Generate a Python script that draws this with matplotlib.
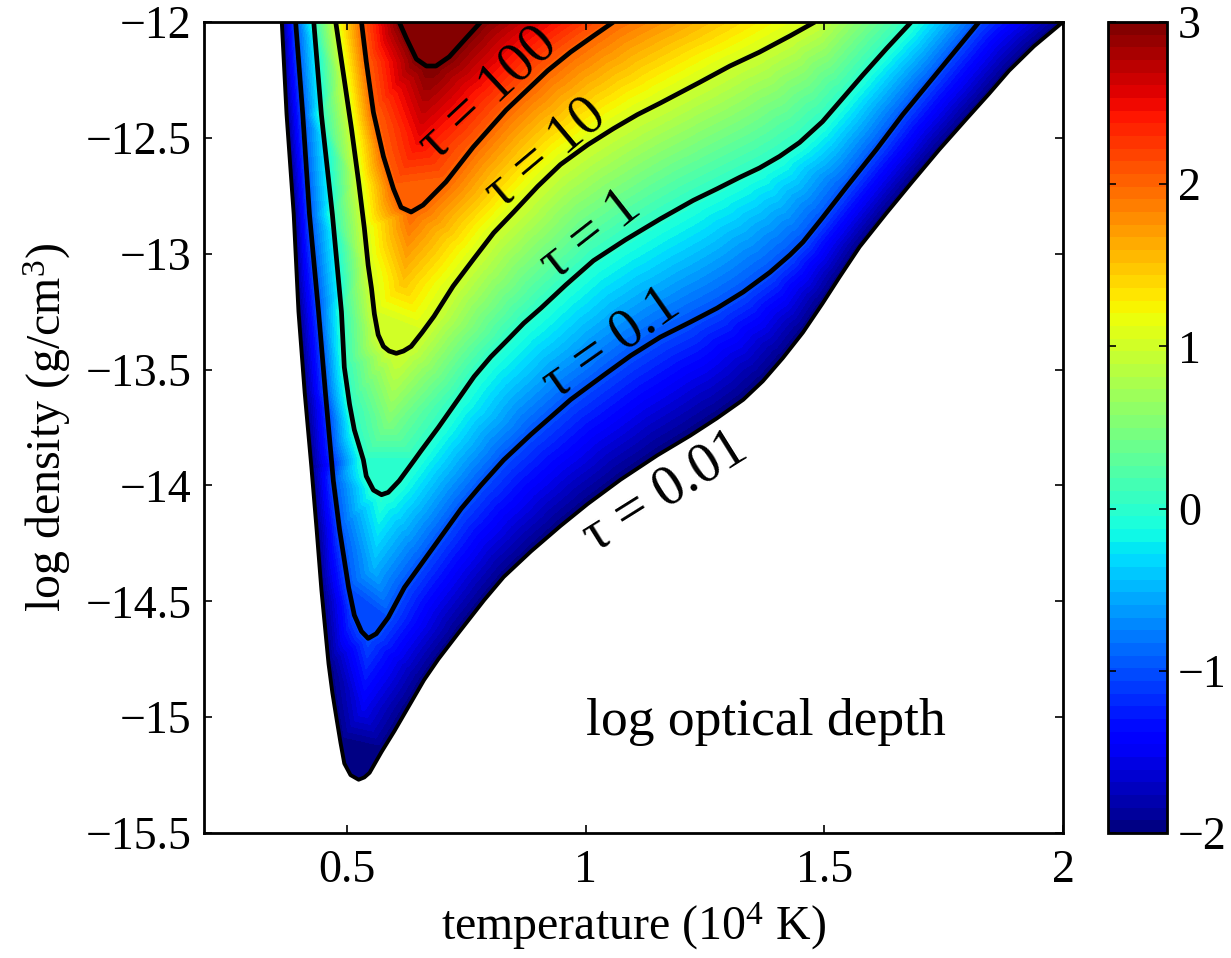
import numpy as np
import matplotlib
matplotlib.use("Agg")
import matplotlib.pyplot as plt
import matplotlib.tri as mtri
from matplotlib.path import Path
from matplotlib.colors import Normalize

plt.rcParams["font.family"] = ["Liberation Serif", "DejaVu Serif"]
plt.rcParams["mathtext.fontset"] = "custom"
plt.rcParams["mathtext.rm"] = "Liberation Serif"
plt.rcParams["mathtext.it"] = "Liberation Serif:italic"

# contours: temperature (1e4 K), log density
t_001 = [0.363, 0.373, 0.388, 0.398, 0.411, 0.425, 0.436, 0.446, 0.461, 0.469, 0.478, 0.486, 0.494, 0.507, 0.524,
         0.536, 0.547, 0.572, 0.599, 0.630, 0.661, 0.691, 0.732, 0.787, 0.828, 0.885, 0.947, 1.004, 1.073, 1.150,
         1.219, 1.275, 1.330, 1.371, 1.413, 1.455, 1.496, 1.532, 1.574, 1.630, 1.684, 1.741, 1.797, 1.845, 1.887,
         1.939, 2.0]
r_001 = [-12, -12.398, -12.83, -13.25, -13.60, -13.92, -14.19, -14.45, -14.77, -14.895, -15.01, -15.11, -15.20, -15.25,
         -15.27, -15.26, -15.24, -15.15, -15.06, -14.95, -14.84, -14.75, -14.64, -14.495, -14.395, -14.285, -14.175,
         -14.08, -13.975, -13.87, -13.785, -13.71, -13.63, -13.55, -13.45, -13.34, -13.215, -13.10, -12.97, -12.825,
         -12.69, -12.55, -12.42, -12.31, -12.21, -12.105, -12]
t_01 = [0.392, 0.407, 0.421, 0.440, 0.454, 0.471, 0.484, 0.503, 0.515, 0.530, 0.544, 0.561, 0.586, 0.620, 0.655,
        0.697, 0.739, 0.780, 0.828, 0.885, 0.968, 1.037, 1.094, 1.156, 1.219, 1.275, 1.330, 1.386, 1.428, 1.455,
        1.494, 1.547, 1.609, 1.664, 1.720, 1.776, 1.824]
r_01 = [-12, -12.40, -12.83, -13.25, -13.59, -13.98, -14.19, -14.44, -14.56, -14.63, -14.66, -14.64, -14.57, -14.44,
        -14.34, -14.22, -14.10, -14.00, -13.89, -13.78, -13.63, -13.525, -13.44, -13.36, -13.295, -13.235, -13.165,
        -13.08, -13.005, -12.95, -12.85, -12.71, -12.55, -12.40, -12.26, -12.12, -12]
t_1 = [0.430, 0.446, 0.469, 0.488, 0.494, 0.505, 0.515, 0.534, 0.540, 0.555, 0.572, 0.586, 0.609, 0.641, 0.655,
       0.691, 0.732, 0.766, 0.801, 0.837, 0.870, 0.906, 0.958, 1.016, 1.083, 1.156, 1.225, 1.275, 1.323, 1.364,
       1.406, 1.448, 1.496, 1.538, 1.580, 1.630, 1.682]
r_1 = [-12, -12.40, -12.83, -13.25, -13.49, -13.65, -13.76, -13.89, -13.96, -14.02, -14.04, -14.03, -13.98, -13.89,
       -13.85, -13.75, -13.63, -13.53, -13.445, -13.37, -13.30, -13.235, -13.135, -13.03, -12.94, -12.85, -12.77,
       -12.72, -12.67, -12.63, -12.58, -12.52, -12.43, -12.33, -12.23, -12.115, -12]
t_10 = [0.476, 0.494, 0.509, 0.524, 0.536, 0.544, 0.551, 0.557, 0.565, 0.576, 0.588, 0.603, 0.618, 0.634, 0.657,
        0.682, 0.722, 0.766, 0.807, 0.849, 0.899, 0.947, 1.004, 1.058, 1.108, 1.156, 1.239, 1.302, 1.364, 1.428, 1.480]
r_10 = [-12, -12.25, -12.46, -12.69, -12.89, -13.05, -13.15, -13.26, -13.35, -13.40, -13.42, -13.43, -13.42, -13.40,
        -13.34, -13.27, -13.14, -13.02, -12.91, -12.82, -12.71, -12.615, -12.53, -12.46, -12.40, -12.35, -12.26,
        -12.19, -12.13, -12.06, -12]
t_100 = [0.530, 0.540, 0.555, 0.576, 0.597, 0.613, 0.634, 0.659, 0.707, 0.764, 0.833, 0.879, 0.920, 0.968, 1.016, 1.058]
r_100 = [-12, -12.17, -12.39, -12.58, -12.72, -12.80, -12.82, -12.79, -12.69, -12.54, -12.38, -12.29, -12.21, -12.13,
         -12.06, -12]
t_1000 = [0.609, 0.624, 0.645, 0.666, 0.686, 0.714, 0.749, 0.780]
r_1000 = [-12, -12.07, -12.16, -12.19, -12.19, -12.15, -12.07, -12]

# values along the bottom of the valley, between the contour tips
t_ridge = [0.534, 0.557, 0.587, 0.618, 0.650]
r_ridge = [-14.96, -14.35, -13.73, -13.12, -12.51]
z_ridge = [-1.5, -0.5, 0.5, 1.5, 2.5]

curves = [(t_001, r_001, -2), (t_01, r_01, -1), (t_1, r_1, 0), (t_10, r_10, 1), (t_100, r_100, 2), (t_1000, r_1000, 3)]

labels = ["τ = 100", "τ = 10", "τ = 1", "τ = 0.1", "τ = 0.01"]
label_t = [0.795, 0.915, 1.01, 1.052, 1.165]
label_r = [-12.31, -12.57, -12.92, -13.39, -14.03]
label_rot = [43, 40, 38, 35, 32]

x_ticks = [0.5, 1, 1.5, 2]
x_labels = ["0.5", "1", "1.5", "2"]
y_ticks = [-15.5, -15, -14.5, -14, -13.5, -13, -12.5, -12]
y_labels = ["\u221215.5", "\u221215", "\u221214.5", "\u221214", "\u221213.5", "\u221213", "\u221212.5", "\u221212"]
c_ticks = [-2, -1, 0, 1, 2, 3]
c_labels = ["\u22122", "\u22121", "0", "1", "2", "3"]

W, H = 1231, 958
fig = plt.figure(figsize=(W / 100, H / 100), dpi=100)
ax = fig.add_axes([204 / W, 1 - 833 / H, 859 / W, 811 / H])
cax = fig.add_axes([1108 / W, 1 - 833 / H, 59 / W, 811 / H])

x = np.concatenate([c[0] for c in curves] + [t_ridge])
y = np.concatenate([c[1] for c in curves] + [r_ridge])
z = np.concatenate([np.full(len(c[0]), float(c[2])) for c in curves] + [z_ridge])

# delaunay on screen proportions, the axes are far from equal
tri_scaled = mtri.Triangulation(x * 479 / 231.4, y)
tri = mtri.Triangulation(x, y, triangles=tri_scaled.triangles)
cx = x[tri.triangles].mean(axis=1)
cy = y[tri.triangles].mean(axis=1)
outline = Path(np.column_stack([t_001, r_001]))
tri.set_mask(~outline.contains_points(np.column_stack([cx, cy])))

levels = np.linspace(-2, 3, 65)
levels[0] -= 0.001
levels[-1] += 0.001
cf = ax.tricontourf(tri, z, levels=levels, cmap="jet", norm=Normalize(-2, 3))

for i, (t, r, _) in enumerate(curves):
    ax.plot(t, r, color="black", lw=2.8 if i == 0 else 3.4, solid_joinstyle="round", solid_capstyle="butt")

for s, t, r, rot in zip(labels, label_t, label_r, label_rot):
    ax.text(t, r, s, fontsize=41, rotation=rot, ha="center", va="center", rotation_mode="anchor")
ax.text(1.0, -15.02, "log optical depth", fontsize=38.5, ha="left", va="center")

ax.set_xlim(0.2, 2)
ax.set_ylim(-15.5, -12)
ax.set_xticks(x_ticks)
ax.set_xticklabels(x_labels)
ax.set_yticks(y_ticks)
ax.set_yticklabels(y_labels)
ax.tick_params(direction="in", top=True, right=True, length=6, width=1.2, labelsize=33)
ax.tick_params(axis="x", pad=12)
ax.tick_params(axis="y", pad=9)
ax.set_xlabel("temperature (10$^{4}$ K)", fontsize=34.5, labelpad=6)
ax.set_ylabel("log density (g/cm$^{3}$)", fontsize=34.5, labelpad=9)
for sp in ax.spines.values():
    sp.set_linewidth(2)

cb = fig.colorbar(cf, cax=cax, ticks=c_ticks)
cb.ax.set_yticklabels(c_labels)
cax.set_ylim(-2, 3)
cax.tick_params(direction="in", left=True, right=True, length=6, width=1.2, labelsize=33, pad=8)
for sp in cax.spines.values():
    sp.set_linewidth(2)
cb.outline.set_linewidth(2)

fig.savefig("out.png", dpi=100)
